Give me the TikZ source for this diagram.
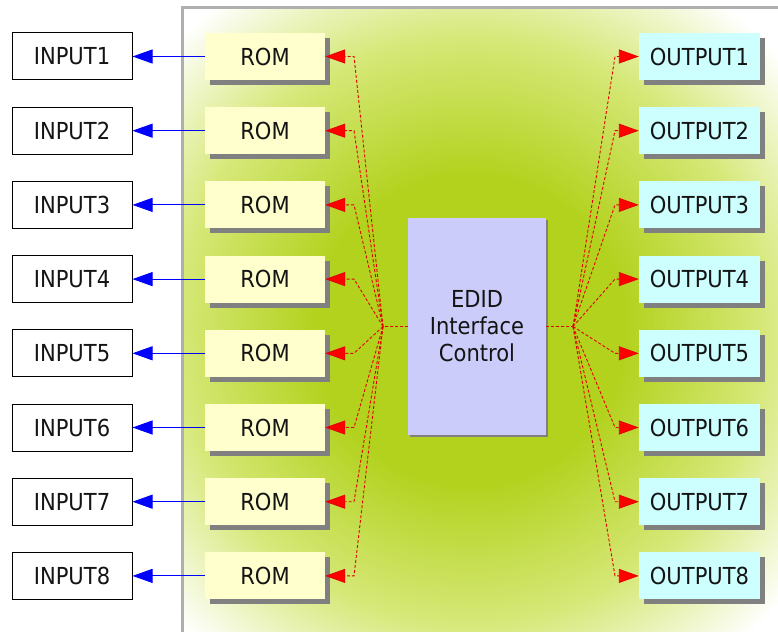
\documentclass[tikz,border=0pt]{standalone}
\usepackage{fontspec}
\setmainfont{DejaVu Sans}[FakeStretch=0.9]
\usetikzlibrary{arrows.meta,shadows}
\definecolor{cg}{RGB}{178,210,30}
\definecolor{cmid}{RGB}{214,232,120}
\definecolor{romfill}{RGB}{255,255,206}
\definecolor{outfill}{RGB}{206,255,255}
\definecolor{edidfill}{RGB}{204,204,250}
\definecolor{shadowgray}{RGB}{128,128,128}
\definecolor{panelborder}{RGB}{175,175,175}
\definecolor{txt}{RGB}{20,20,20}
\pgfdeclareradialshading{panelshade}{\pgfpoint{0bp}{0bp}}{color(0bp)=(cg);color(9bp)=(cg);color(17bp)=(cmid);color(24bp)=(white);color(50bp)=(white)}
\begin{document}
\begin{tikzpicture}[x=1pt,y=-1pt,
  every node/.style={font=\fontsize{23.4}{27}\selectfont, text=txt, inner sep=0pt},
  inbox/.style={draw=black, line width=1pt, fill=white, minimum width=120pt, minimum height=47pt},
  rombox/.style={fill=romfill, minimum width=120pt, minimum height=47pt,
    drop shadow={shadow xshift=5pt, shadow yshift=-5pt, fill=shadowgray, opacity=1}},
  outbox/.style={fill=outfill, minimum width=121pt, minimum height=47pt,
    drop shadow={shadow xshift=5pt, shadow yshift=-5pt, fill=shadowgray, opacity=1}},
  edidbox/.style={fill=edidfill, minimum width=138pt, minimum height=217pt, align=center,
    drop shadow={shadow xshift=2pt, shadow yshift=-2pt, fill=shadowgray, opacity=1}},
  blueline/.style={blue, line width=0.9pt, -{Triangle[length=20pt,width=14pt]}},
  redline/.style={red!90!black, line width=0.9pt, dash pattern=on 3pt off 2pt},
  redarrow/.style={redline, -{Triangle[length=20pt,width=14pt,fill=red,sep=0pt]}}
]
\useasboundingbox (0,0) rectangle (778,631);
% panel
\fill[white] (0,0) rectangle (778,631);
\begin{scope}
  \clip (182,8) rectangle (790,645);
  \shade[shading=panelshade] (470,330) circle (430);
\end{scope}
\draw[panelborder, line width=3pt] (182,645) -- (182,8) -- (790,8);

% nodes
\foreach \i in {1,...,8} {
  \pgfmathsetmacro\yy{56.5+74.2*(\i-1)}
  \node[inbox] (in\i) at (72,\yy) {INPUT\i};
  \node[rombox] (rom\i) at (265,\yy) {ROM};
  \node[outbox] (out\i) at (699.5,\yy) {OUTPUT\i};
  \coordinate (bl\i) at (354,\yy);
  \coordinate (br\i) at (615,\yy);
}
\node[edidbox] (edid) at (477,326.5) {EDID\\Interface\\Control};
\coordinate (jl) at (383,326.5);
\coordinate (jr) at (573,326.5);

% connectors
\draw[redline] (edid.west) -- (jl);
\draw[redline] (edid.east) -- (jr);
\foreach \i in {1,...,8} {
  \draw[blueline] (rom\i.west) -- (in\i.east);
  \draw[redarrow] (jl) -- (bl\i) -- (rom\i.east);
  \draw[redarrow] (jr) -- (br\i) -- (out\i.west);
}
\end{tikzpicture}
\end{document}
